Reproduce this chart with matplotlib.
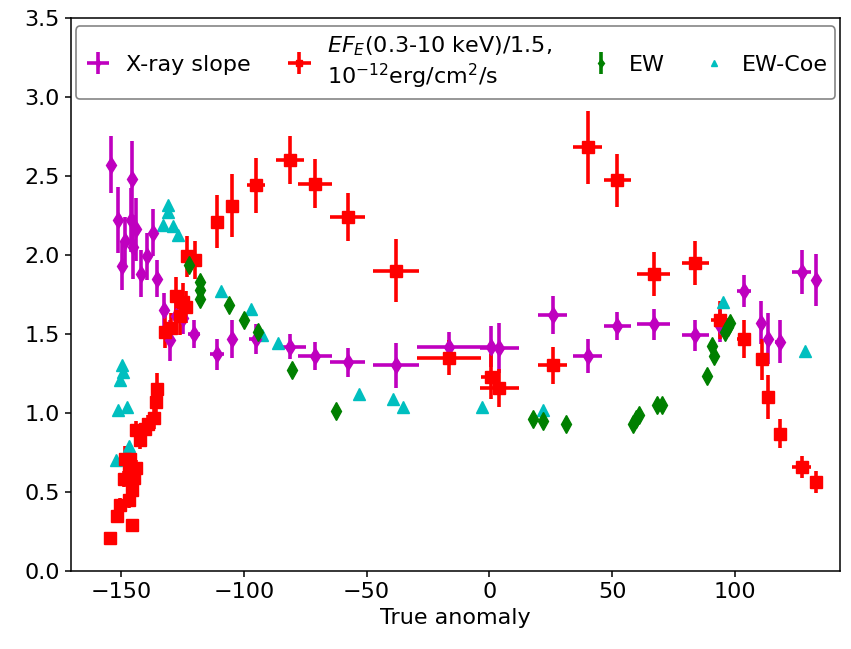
import matplotlib
matplotlib.use("Agg")
import matplotlib.pyplot as plt

# X-ray slope (photon index)
slope_x = [-154.3, -151.3, -149.9, -148.6, -146.0, -145.6, -145.2, -143.9, -141.8, -139.7,
           -137.1, -135.5, -132.5, -130.3, -127.6, -124.9, -120.3, -111.0, -104.8, -95.3,
           -81.2, -71.2, -57.8, -38.1, -16.5, 0.5, 4.1, 25.8, 40.0, 52.2,
           66.9, 84.0, 94.0, 103.7, 110.7, 113.6, 118.6, 127.2, 133.3]
slope_y = [2.57, 2.22, 1.93, 2.09, 2.22, 2.48, 2.05, 2.16, 1.88, 1.99,
           2.14, 1.85, 1.65, 1.46, 1.61, 1.60, 1.50, 1.37, 1.47, 1.47,
           1.42, 1.36, 1.32, 1.30, 1.42, 1.42, 1.41, 1.62, 1.36, 1.55,
           1.56, 1.49, 1.55, 1.77, 1.57, 1.47, 1.45, 1.89, 1.84]
slope_xerr = [0.8, 0.8, 0.8, 0.8, 0.8, 0.8, 0.8, 0.8, 0.8, 0.8,
              0.8, 0.8, 1.0, 1.0, 1.0, 1.0, 2.5, 3.0, 1.5, 2.7,
              6.3, 6.9, 7.1, 9.3, 12.9, 4.0, 8.1, 6.0, 5.8, 5.6,
              6.9, 5.6, 1.5, 2.9, 1.5, 1.5, 2.0, 3.7, 1.5]
slope_yerr = [0.18, 0.21, 0.15, 0.15, 0.20, 0.24, 0.20, 0.20, 0.15, 0.15,
              0.15, 0.12, 0.11, 0.13, 0.10, 0.10, 0.09, 0.10, 0.12, 0.095,
              0.08, 0.09, 0.09, 0.14, 0.09, 0.13, 0.16, 0.12, 0.11, 0.09,
              0.10, 0.10, 0.10, 0.10, 0.135, 0.16, 0.135, 0.14, 0.165]

# 0.3-10 keV flux / 1.5 in 1e-12 erg/cm2/s
flux_x = [-154.7, -151.7, -150.7, -149.0, -148.3, -147.0, -146.8, -146.3, -145.6, -145.5,
          -145.0, -144.0, -143.8, -142.5, -140.4, -139.1, -136.8, -136.0, -135.5, -132.3,
          -129.6, -127.6, -126.2, -124.9, -123.5, -123.2, -120.1, -111.0, -104.8, -95.0,
          -81.2, -71.2, -57.8, -38.1, -16.5, 0.5, 4.1, 25.8, 40.0, 52.2,
          66.9, 84.0, 94.0, 103.7, 110.9, 113.6, 118.6, 127.2, 133.0]
flux_y = [0.21, 0.35, 0.42, 0.58, 0.71, 0.65, 0.45, 0.71, 0.51, 0.29,
          0.59, 0.65, 0.89, 0.83, 0.90, 0.93, 0.97, 1.07, 1.15, 1.51,
          1.535, 1.74, 1.61, 1.70, 1.67, 1.99, 1.97, 2.21, 2.31, 2.44,
          2.60, 2.45, 2.24, 1.90, 1.35, 1.23, 1.16, 1.30, 2.68, 2.47,
          1.88, 1.95, 1.59, 1.47, 1.34, 1.10, 0.87, 0.66, 0.565]
flux_xerr = [1.0, 1.0, 1.0, 1.0, 1.0, 1.0, 1.0, 1.0, 1.0, 1.0,
             1.0, 1.0, 1.0, 1.0, 1.0, 1.0, 1.0, 1.0, 1.0, 1.0,
             1.0, 1.0, 1.0, 1.0, 1.0, 2.0, 2.0, 1.5, 1.5, 3.7,
             5.6, 6.9, 7.1, 9.3, 12.9, 3.9, 8.1, 6.0, 5.8, 5.6,
             6.9, 5.6, 3.5, 2.9, 1.5, 1.5, 2.5, 3.7, 1.5]
flux_yerr = [0.03, 0.04, 0.04, 0.05, 0.08, 0.05, 0.05, 0.05, 0.05, 0.04,
             0.05, 0.05, 0.06, 0.06, 0.06, 0.06, 0.07, 0.07, 0.10, 0.10,
             0.10, 0.12, 0.12, 0.12, 0.10, 0.13, 0.12, 0.17, 0.20, 0.175,
             0.15, 0.155, 0.15, 0.20, 0.11, 0.14, 0.12, 0.12, 0.23, 0.17,
             0.14, 0.14, 0.12, 0.12, 0.13, 0.14, 0.09, 0.07, 0.07]

# equivalent width
ew_x = [-122.2, -118.1, -118.1, -118.1, -106.0, -99.8, -94.4, -80.4, -62.5, 17.7,
        21.7, 31.4, 58.5, 59.7, 60.8, 68.2, 70.2, 88.8, 90.6, 91.7,
        96.0, 97.1, 98.0]
ew_y = [1.935, 1.83, 1.78, 1.72, 1.68, 1.59, 1.51, 1.27, 1.01, 0.96,
        0.95, 0.93, 0.93, 0.96, 0.99, 1.05, 1.05, 1.235, 1.425, 1.36,
        1.51, 1.545, 1.57]
ew_yerr = [0.02] * len(ew_x)

# equivalent width (Coe)
coe_x = [-152.0, -151.3, -150.6, -149.9, -149.5, -147.6, -146.8, -133.0, -131.0, -131.0,
         -129.0, -126.9, -109.3, -97.1, -92.6, -86.1, -53.3, -39.2, -35.2, -2.9,
         21.7, 95.3, 128.8]
coe_y = [0.70, 1.02, 1.21, 1.30, 1.26, 1.04, 0.79, 2.19, 2.315, 2.27,
         2.18, 2.125, 1.77, 1.66, 1.49, 1.44, 1.12, 1.09, 1.04, 1.035,
         1.02, 1.70, 1.39]

FS = 16

fig = plt.figure(figsize=(8.51, 6.49), dpi=100)
ax = fig.add_axes([0.0834, 0.12, 0.904, 0.853])

h1 = ax.errorbar(slope_x, slope_y, xerr=slope_xerr, yerr=slope_yerr, fmt='md',
                 ms=8, elinewidth=2.6, capsize=0, label='X-ray slope')
h2 = ax.errorbar(flux_x, flux_y, xerr=flux_xerr, yerr=flux_yerr, fmt='rs',
                 ms=8.5, elinewidth=2.6, capsize=0,
                 label='$EF_E$(0.3-10 keV)/1.5,\n$10^{-12}$erg/cm$^2$/s')
h3 = ax.errorbar(ew_x, ew_y, yerr=ew_yerr, fmt='gd', ms=9, elinewidth=2.6,
                 capsize=0, label='EW')
h4, = ax.plot(coe_x, coe_y, 'c^', ms=8, label='EW-Coe')

ax.set_xlim(-170.5, 143)
ax.set_ylim(0, 3.5)
ax.set_xlabel('True anomaly', fontsize=FS)
ax.tick_params(labelsize=FS, length=4.6, width=1.1)
for s in ax.spines.values():
    s.set_linewidth(1.1)

leg = ax.legend(handles=[h1, h2, h3, h4], loc='upper center', ncol=4, fontsize=FS,
                markerscale=0.5, handlelength=1.3, handletextpad=0.6,
                columnspacing=1.55, borderaxespad=0.4, borderpad=0.35)
leg.get_frame().set_edgecolor('0.4')
leg.get_frame().set_linewidth(1.2)

fig.savefig('out.png', dpi=100)
